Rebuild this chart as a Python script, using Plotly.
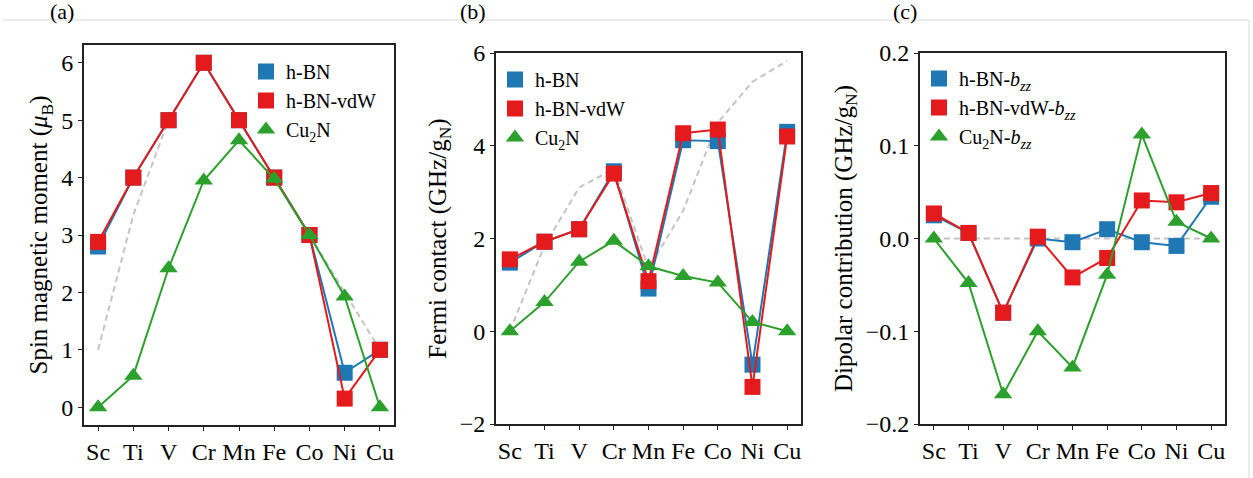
import plotly.graph_objects as go

elements = ["Sc", "Ti", "V", "Cr", "Mn", "Fe", "Co", "Ni", "Cu"]

# (a) Spin magnetic moment
spin_hbn = [2.8, 4.0, 5.0, 6.0, 5.0, 4.0, 3.0, 0.6, 1.0]
spin_vdw = [2.88, 4.0, 5.0, 6.0, 5.0, 4.0, 3.0, 0.15, 1.0]
spin_cu2n = [0.0, 0.55, 2.42, 3.95, 4.65, 3.98, 3.0, 1.93, 0.0]
spin_ref = [1.0, 3.35, 5.0, 6.0, 5.0, 4.0, 3.0, 2.0, 1.0]

# (b) Fermi contact
fc_hbn = [1.48, 1.93, 2.2, 3.45, 0.92, 4.12, 4.1, -0.72, 4.3]
fc_vdw = [1.55, 1.93, 2.2, 3.4, 1.08, 4.27, 4.35, -1.2, 4.2]
fc_cu2n = [0.0, 0.63, 1.5, 1.95, 1.4, 1.19, 1.05, 0.2, 0.0]
fc_ref = [0.0, 1.85, 3.1, 3.5, 1.35, 2.6, 4.5, 5.38, 5.83]

# (c) Dipolar contribution b_zz
dp_hbn = [0.025, 0.006, -0.08, 0.0, -0.004, 0.01, -0.004, -0.008, 0.045]
dp_vdw = [0.027, 0.006, -0.08, 0.002, -0.042, -0.021, 0.041, 0.039, 0.049]
dp_cu2n = [0.0, -0.048, -0.168, -0.1, -0.139, -0.039, 0.112, 0.018, 0.0]
dp_ref = [0.0, 0.0, 0.0, 0.0, 0.0, 0.0, 0.0, 0.0, 0.0]

BLUE = "#1f77b4"
RED = "#e41a1c"
GREEN = "#2ca02c"
GRAY = "#c4c4c4"
FONT = "Liberation Serif"

W, H = 1253, 478

fig = go.Figure()

panels = [
    ("x", "y", "legend", spin_hbn, spin_vdw, spin_cu2n, spin_ref,
     ["h-BN", "h-BN-vdW", "Cu<sub>2</sub>N"]),
    ("x2", "y2", "legend2", fc_hbn, fc_vdw, fc_cu2n, fc_ref,
     ["h-BN", "h-BN-vdW", "Cu<sub>2</sub>N"]),
    ("x3", "y3", "legend3", dp_hbn, dp_vdw, dp_cu2n, dp_ref,
     ["h-BN-<i>b</i><sub><i>zz</i></sub>", "h-BN-vdW-<i>b</i><sub><i>zz</i></sub>",
      "Cu<sub>2</sub>N-<i>b</i><sub><i>zz</i></sub>"]),
]

for xa, ya, lg, s1, s2, s3, sref, names in panels:
    fig.add_trace(go.Scatter(x=elements, y=sref, mode="lines", xaxis=xa, yaxis=ya,
                             line=dict(color=GRAY, width=2, dash="6px,4px"),
                             showlegend=False, hoverinfo="skip"))
    for vals, col, sym in [(s1, BLUE, "square"), (s2, RED, "square"), (s3, GREEN, "triangle-up")]:
        fig.add_trace(go.Scatter(x=elements, y=vals, mode="lines+markers", xaxis=xa, yaxis=ya,
                                 line=dict(color=col, width=2),
                                 marker=dict(symbol=sym, size=16, color=col, line=dict(width=0)),
                                 showlegend=False))
    for name, col, sym in zip(names, [BLUE, RED, GREEN], ["square", "square", "triangle-up"]):
        fig.add_trace(go.Scatter(x=[None], y=[None], mode="markers", xaxis=xa, yaxis=ya,
                                 marker=dict(symbol=sym, size=16, color=col, line=dict(width=0)),
                                 name=name, legend=lg, showlegend=True))

def px(v):
    return v / W

def py(v):
    return 1 - v / H

axis_common = dict(showline=True, linecolor="#222222", linewidth=2, mirror=True,
                   ticks="outside", ticklen=4, tickwidth=1, tickcolor="#222222",
                   showgrid=False, zeroline=False, automargin=False,
                   tickfont=dict(family=FONT, size=24, color="black"))

xcommon = dict(axis_common, range=[-0.4, 8.4], type="category",
               categoryorder="array", categoryarray=elements)

title_font = dict(family=FONT, size=25, color="black")
leg_font = dict(family=FONT, size=20, color="black")

fig.update_layout(
    width=W, height=H,
    margin=dict(l=0, r=0, t=0, b=0, pad=0, autoexpand=False),
    paper_bgcolor="white", plot_bgcolor="white",
    font=dict(family=FONT, size=20, color="black"),
    xaxis=dict(xcommon, domain=[px(84), px(394)], anchor="y"),
    yaxis=dict(axis_common, domain=[py(425), py(45)], anchor="x",
               range=[-0.31, 6.31], tickvals=[0, 1, 2, 3, 4, 5, 6],
               title=dict(text="Spin magnetic moment (<i>μ</i><sub>B</sub>)",
                          font=title_font, standoff=6)),
    xaxis2=dict(xcommon, domain=[px(496), px(801)], anchor="y2"),
    yaxis2=dict(axis_common, domain=[py(424), py(53)], anchor="x2",
                range=[-2, 6], tickvals=[-2, 0, 2, 4, 6],
                title=dict(text="Fermi contact (GHz/g<sub>N</sub>)",
                           font=title_font, standoff=6)),
    xaxis3=dict(xcommon, domain=[px(920), px(1225)], anchor="y3"),
    yaxis3=dict(axis_common, domain=[py(424), py(53)], anchor="x3",
                range=[-0.2, 0.2], tickvals=[-0.2, -0.1, 0.0, 0.1, 0.2], tickformat=".1f",
                title=dict(text="Dipolar contribution (GHz/g<sub>N</sub>)",
                           font=title_font, standoff=6)),
    legend=dict(x=px(246), y=py(52), xanchor="left", yanchor="top",
                bgcolor="rgba(0,0,0,0)", font=leg_font,
                tracegroupgap=0, itemwidth=30),
    legend2=dict(x=px(495), y=py(60), xanchor="left", yanchor="top",
                 bgcolor="rgba(0,0,0,0)", font=leg_font,
                 tracegroupgap=0, itemwidth=30),
    legend3=dict(x=px(919), y=py(59), xanchor="left", yanchor="top",
                 bgcolor="rgba(0,0,0,0)", font=leg_font,
                 tracegroupgap=0, itemwidth=30),
    showlegend=True,
)

for label, xpos in [("(a)", 62), ("(b)", 473), ("(c)", 905)]:
    fig.add_annotation(text=label, x=px(xpos), y=py(12), xref="paper", yref="paper",
                       showarrow=False, xanchor="center", yanchor="middle",
                       font=dict(family=FONT, size=22, color="black"))

fig.add_shape(type="line", xref="paper", yref="paper", x0=px(3), x1=px(1249), y0=py(20), y1=py(20),
              line=dict(color="#d8d8d8", width=1), layer="above")
fig.add_shape(type="line", xref="paper", yref="paper", x0=px(1249), x1=px(1249), y0=py(20), y1=0,
              line=dict(color="#d8d8d8", width=1), layer="above")

fig.write_html("out.html", config={"displayModeBar": False},
               post_script="document.body.style.margin='0';document.body.style.overflow='hidden';")
